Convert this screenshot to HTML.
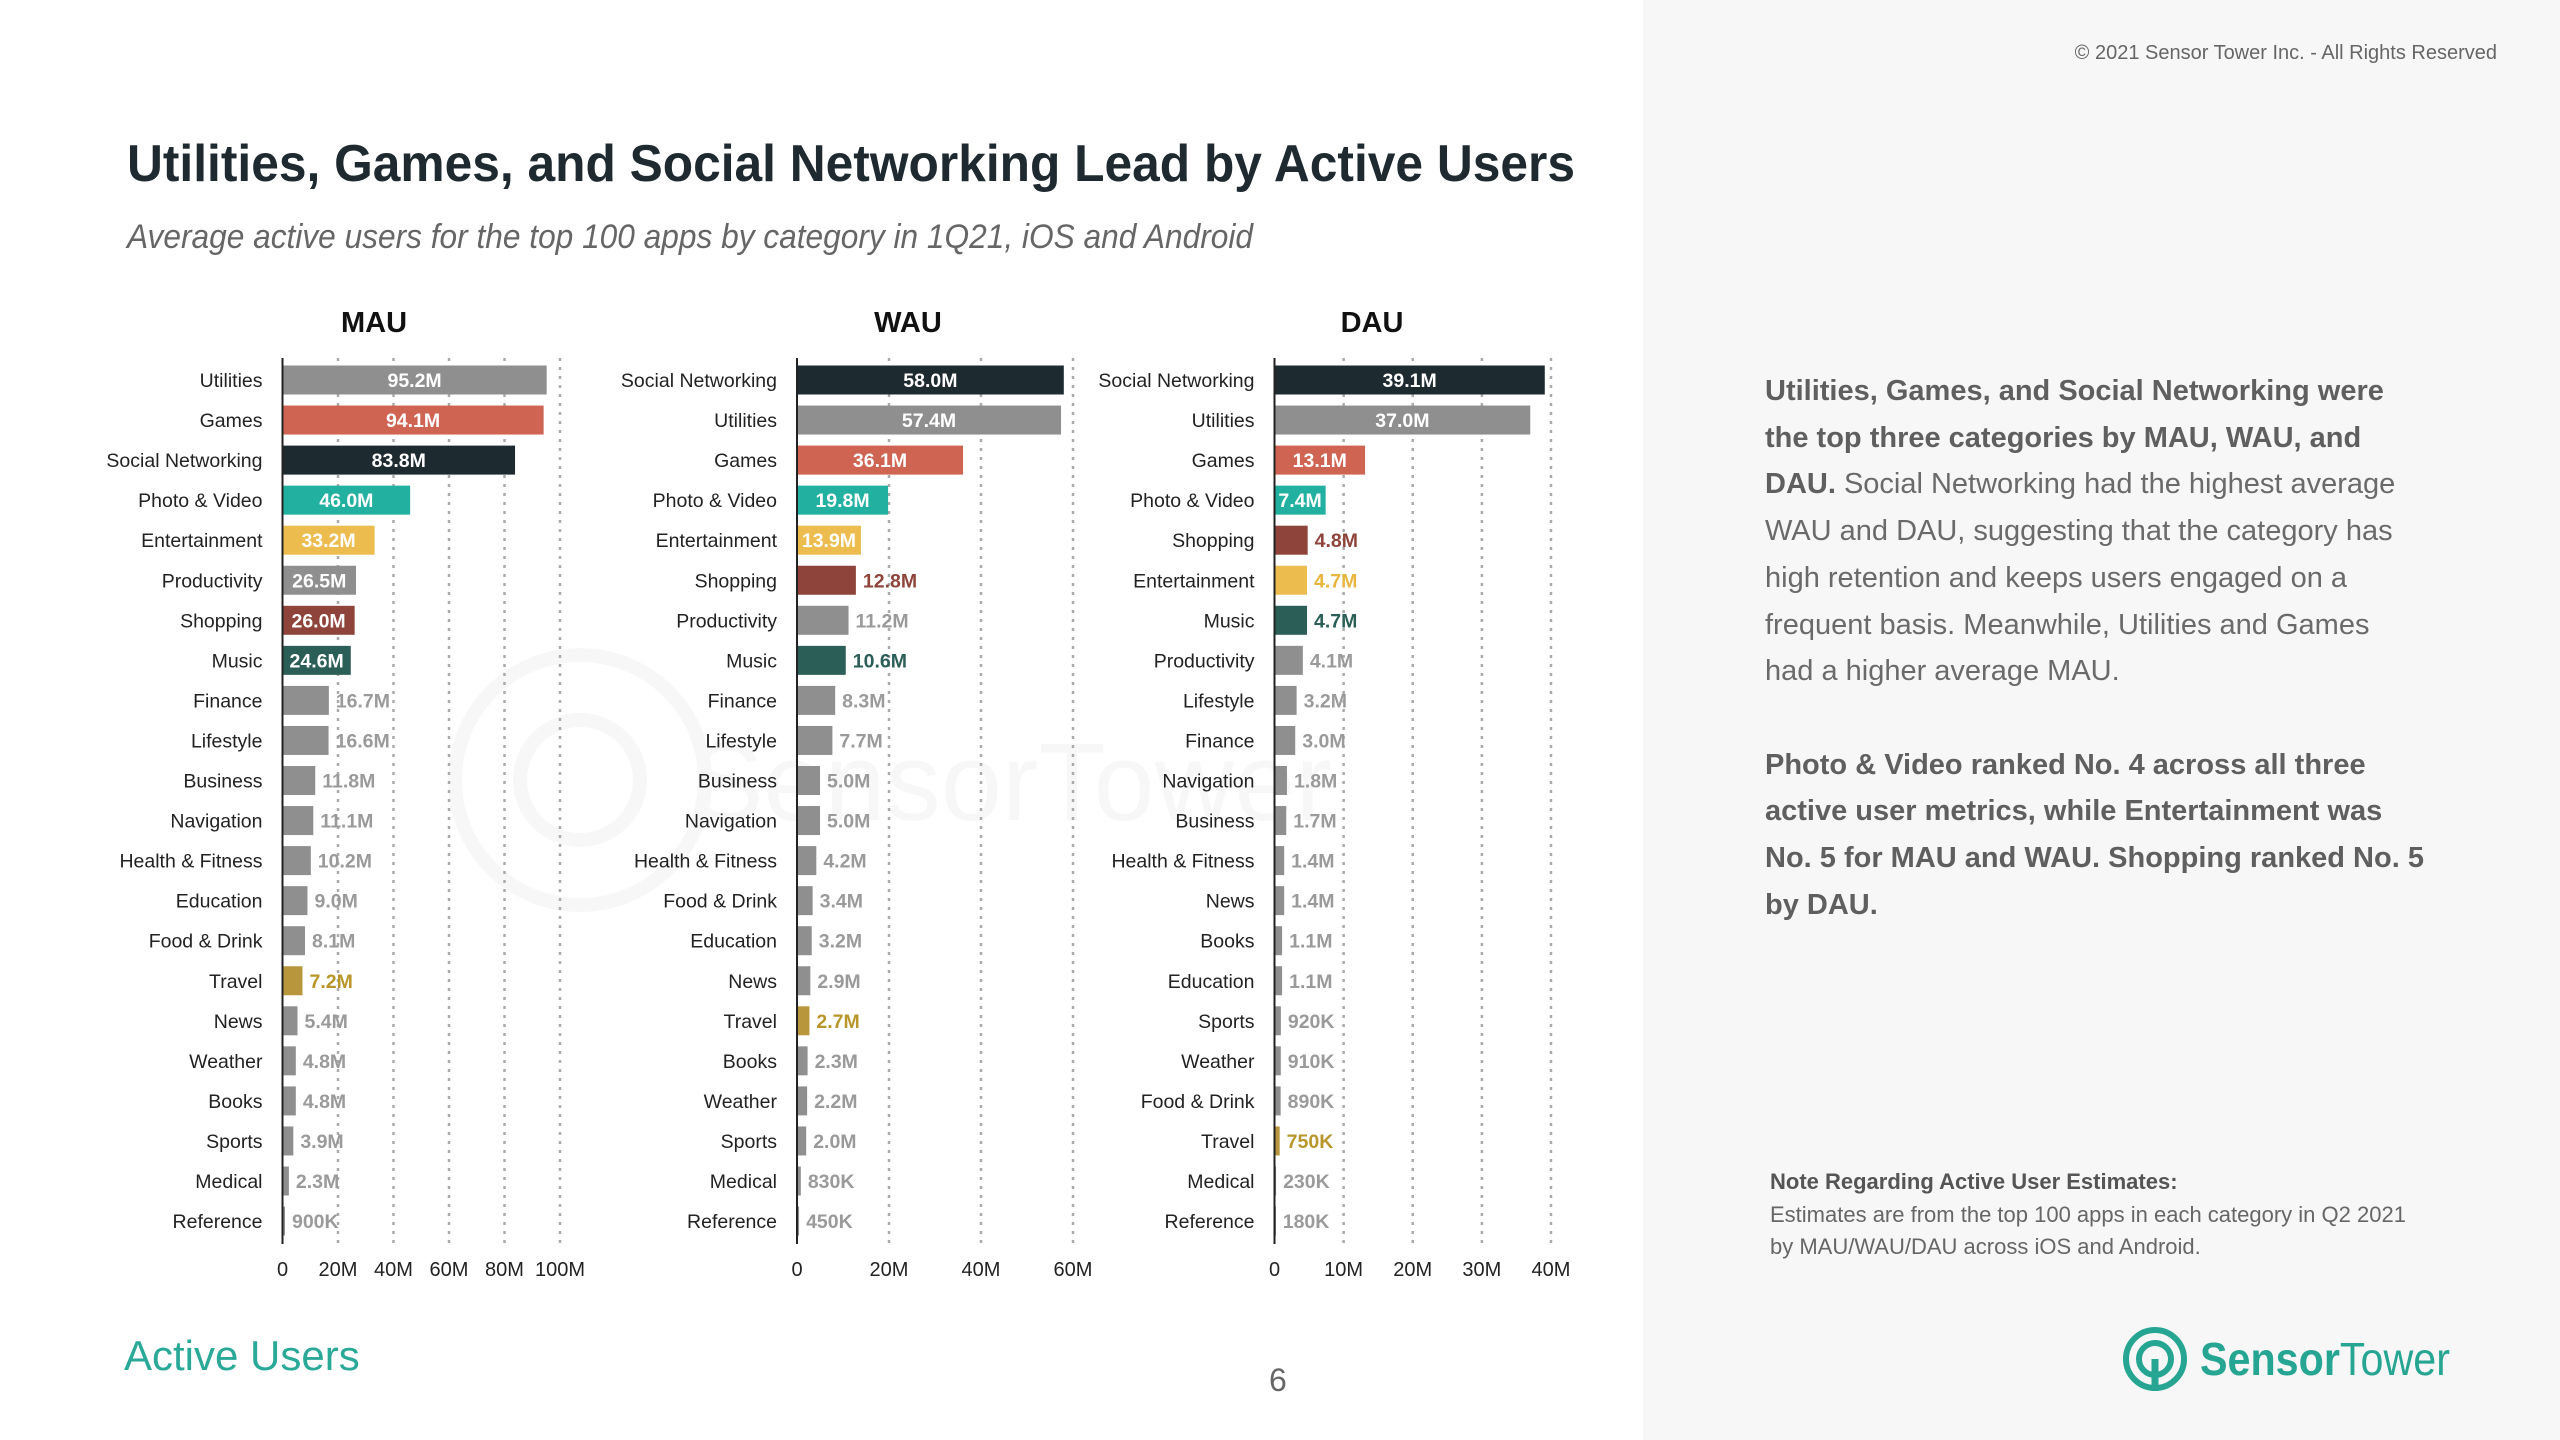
<!DOCTYPE html>
<html><head><meta charset="utf-8"><style>
html,body{margin:0;padding:0;}
body{width:2560px;height:1440px;position:relative;background:#fff;font-family:"Liberation Sans",sans-serif;overflow:hidden;}
#right{position:absolute;left:1643px;top:0;width:917px;height:1440px;background:#f7f7f7;}
.abs{position:absolute;}
#body-text{left:1765px;top:368px;font-size:29px;line-height:46.7px;color:#6a6a6a;white-space:nowrap;}
#body-text b{color:#5f5f5f;}
</style></head><body>
<div id="right"></div>
<div class="abs" style="right:63px;top:42px;font-size:20px;color:#666;">© 2021 Sensor Tower Inc. - All Rights Reserved</div>
<div class="abs" id="body-text">
<b>Utilities, Games, and Social Networking were<br>the top three categories by MAU, WAU, and<br>DAU.</b> Social Networking had the highest average<br>WAU and DAU, suggesting that the category has<br>high retention and keeps users engaged on a<br>frequent basis. Meanwhile, Utilities and Games<br>had a higher average MAU.<br><br>
<b>Photo &amp; Video ranked No. 4 across all three<br>active user metrics, while Entertainment was<br>No. 5 for MAU and WAU. Shopping ranked No. 5<br>by DAU.</b></div>
<div class="abs" style="left:1770px;top:1166px;font-size:22px;line-height:32.5px;color:#666;white-space:nowrap;"><b style="color:#555">Note Regarding Active User Estimates:</b><br>Estimates are from the top 100 apps in each category in Q2 2021<br>by MAU/WAU/DAU across iOS and Android.</div>
<div class="abs" style="left:124px;top:1332px;font-size:42px;color:#2aa898;">Active Users</div>
<div class="abs" style="left:1269px;top:1362px;font-size:32px;color:#666;">6</div>
<svg class="abs" style="left:2120px;top:1325px" width="360" height="72">
<circle cx="35" cy="34" r="29" fill="none" stroke="#26a593" stroke-width="6"/>
<circle cx="35" cy="34" r="16" fill="none" stroke="#26a593" stroke-width="6"/>
<line x1="35" y1="34" x2="35" y2="66" stroke="#26a593" stroke-width="7"/>
<text x="80" y="50" font-size="46" fill="#26a593" font-weight="bold" textLength="250" lengthAdjust="spacingAndGlyphs">Sensor<tspan font-weight="normal">Tower</tspan></text>
</svg>
<svg class="abs" style="left:0;top:0" width="1643" height="1440" id="chart">
<text x="127" y="181" font-size="52" font-weight="bold" fill="#1e2a30" textLength="1448" lengthAdjust="spacingAndGlyphs">Utilities, Games, and Social Networking Lead by Active Users</text>
<text x="127" y="248" font-size="34" font-style="italic" fill="#666" textLength="1126" lengthAdjust="spacingAndGlyphs">Average active users for the top 100 apps by category in 1Q21, iOS and Android</text>
<g opacity="0.5">
<circle cx="580" cy="780" r="125" fill="none" stroke="#f0f0f0" stroke-width="14"/>
<circle cx="580" cy="780" r="60" fill="none" stroke="#f0f0f0" stroke-width="14"/>
<text x="690" y="820" font-size="110" fill="#f0f0f0">SensorTower</text>
</g>
</svg>
<script>
const mauCats=["Utilities","Games","Social Networking","Photo & Video","Entertainment","Productivity","Shopping","Music","Finance","Lifestyle","Business","Navigation","Health & Fitness","Education","Food & Drink","Travel","News","Weather","Books","Sports","Medical","Reference"];
const mauVals=[95.2,94.1,83.8,46.0,33.2,26.5,26.0,24.6,16.7,16.6,11.8,11.1,10.2,9.0,8.1,7.2,5.4,4.8,4.8,3.9,2.3,0.9];
const mauLabels=["95.2M","94.1M","83.8M","46.0M","33.2M","26.5M","26.0M","24.6M","16.7M","16.6M","11.8M","11.1M","10.2M","9.0M","8.1M","7.2M","5.4M","4.8M","4.8M","3.9M","2.3M","900K"];
const wauCats=["Social Networking","Utilities","Games","Photo & Video","Entertainment","Shopping","Productivity","Music","Finance","Lifestyle","Business","Navigation","Health & Fitness","Food & Drink","Education","News","Travel","Books","Weather","Sports","Medical","Reference"];
const wauVals=[58.0,57.4,36.1,19.8,13.9,12.8,11.2,10.6,8.3,7.7,5.0,5.0,4.2,3.4,3.2,2.9,2.7,2.3,2.2,2.0,0.83,0.45];
const wauLabels=["58.0M","57.4M","36.1M","19.8M","13.9M","12.8M","11.2M","10.6M","8.3M","7.7M","5.0M","5.0M","4.2M","3.4M","3.2M","2.9M","2.7M","2.3M","2.2M","2.0M","830K","450K"];
const dauCats=["Social Networking","Utilities","Games","Photo & Video","Shopping","Entertainment","Music","Productivity","Lifestyle","Finance","Navigation","Business","Health & Fitness","News","Books","Education","Sports","Weather","Food & Drink","Travel","Medical","Reference"];
const dauVals=[39.1,37.0,13.1,7.4,4.8,4.7,4.7,4.1,3.2,3.0,1.8,1.7,1.4,1.4,1.1,1.1,0.92,0.91,0.89,0.75,0.23,0.18];
const dauLabels=["39.1M","37.0M","13.1M","7.4M","4.8M","4.7M","4.7M","4.1M","3.2M","3.0M","1.8M","1.7M","1.4M","1.4M","1.1M","1.1M","920K","910K","890K","750K","230K","180K"];
const mauTicks=[0,20,40,60,80,100];
const mauTickLabels=["0","20M","40M","60M","80M","100M"];
const wauTicks=[0,20,40,60];
const wauTickLabels=["0","20M","40M","60M"];
const dauTicks=[0,10,20,30,40];
const dauTickLabels=["0","10M","20M","30M","40M"];

const colorMap={"Games":"#d06452","Social Networking":"#1d2a30","Photo & Video":"#22b0a1","Entertainment":"#ecbd4e","Shopping":"#8e443a","Music":"#2b5e57","Travel":"#b8963c"};
const outColor={"Shopping":"#8e443a","Music":"#2b5e57","Entertainment":"#e8b53e","Travel":"#b8962c"};
const NS="http://www.w3.org/2000/svg";
const svg=document.getElementById('chart');
function mk(tag,attrs,parent){const e=document.createElementNS(NS,tag);for(const k in attrs)e.setAttribute(k,attrs[k]);(parent||svg).appendChild(e);return e;}
const y0=380, step=40.05, barH=29;
function drawChart(name,title,cats,vals,labels,ticks,tickLabels,axisX,maxV,width,insideN,titleX){
  const g=mk('g',{});
  
  
  const xs=v=>axisX+v/maxV*width;
  const t=mk('text',{x:titleX,y:332,'font-size':29,'font-weight':'bold','text-anchor':'middle',fill:'#111'},g);
  t.textContent=title;
  
  
  ticks.forEach((tv,i)=>{
    if(tv>0){const l=mk('line',{x1:xs(tv),x2:xs(tv),y1:358,y2:1244,stroke:'#aaa','stroke-width':2.5,'stroke-dasharray':'3,6'},g);
    
    }
    const tl=mk('text',{x:xs(tv),y:1276,'font-size':20,'text-anchor':'middle',fill:'#222'},g);
    tl.textContent=tickLabels[i];
    
    
  });
  cats.forEach((c,i)=>{
    const cy=y0+i*step;
    const lab=mk('text',{x:axisX-20,y:cy+7,'font-size':19.5,'text-anchor':'end',fill:'#222'},g);
    lab.textContent=c;
    
    
    const w=xs(vals[i])-axisX;
    const r=mk('rect',{x:axisX,y:cy-barH/2,width:Math.max(w,1.5),height:barH,fill:colorMap[c]||'#8f8f8f'},g);
    
    
    const inside=i<insideN;
    const vt=mk('text',{x:inside?axisX+w/2:axisX+w+7,y:cy+7,'font-size':19.5,'font-weight':'bold','text-anchor':inside?'middle':'start',fill:inside?'#fff':(outColor[c]||'#9a9a9a')},g);
    vt.textContent=labels[i];
    
    
  });
  const ax=mk('line',{x1:axisX,x2:axisX,y1:358,y2:1244,stroke:'#222','stroke-width':2},g);
  
  
}
drawChart('mau','MAU',mauCats,mauVals,mauLabels,mauTicks,mauTickLabels,282.5,100,277.5,8,374);
drawChart('wau','WAU',wauCats,wauVals,wauLabels,wauTicks,wauTickLabels,797,60,276,5,908);
drawChart('dau','DAU',dauCats,dauVals,dauLabels,dauTicks,dauTickLabels,1274.5,40,276.5,4,1372);
</script>
</body></html>
